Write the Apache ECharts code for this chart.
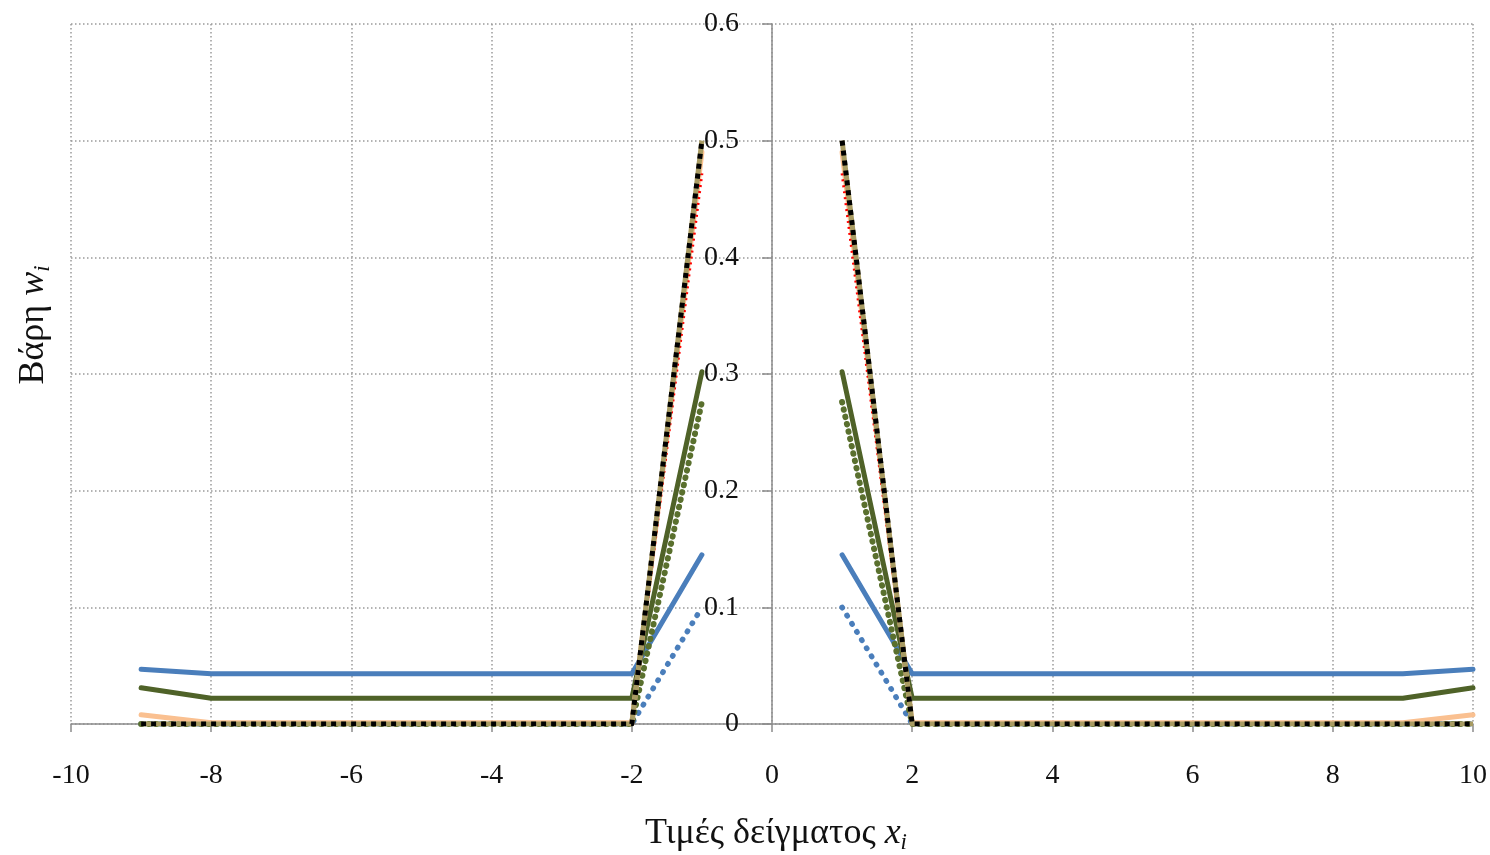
<!DOCTYPE html>
<html>
<head>
<meta charset="utf-8">
<script src="https://cdn.jsdelivr.net/npm/echarts@6/dist/echarts.min.js"></script>
<style>
  html, body { margin: 0; padding: 0; background: #fff; }
  #chart { width: 1490px; height: 855px; }
</style>
</head>
<body>
<div id="chart"></div>
<script>
// Sample positions x_i (0 has no sample, so every curve breaks there)
const xValues = [-9, -8, -7, -6, -5, -4, -3, -2, -1, 0, 1, 2, 3, 4, 5, 6, 7, 8, 9, 10];

// Weights w_i for each curve
const blueSolid   = [0.047, 0.043, 0.043, 0.043, 0.043, 0.043, 0.043, 0.043, 0.145, null, 0.145, 0.043, 0.043, 0.043, 0.043, 0.043, 0.043, 0.043, 0.043, 0.047];
const blueDotted  = [0, 0, 0, 0, 0, 0, 0, 0, 0.100, null, 0.100, 0, 0, 0, 0, 0, 0, 0, 0, 0];
const greenSolid  = [0.031, 0.022, 0.022, 0.022, 0.022, 0.022, 0.022, 0.022, 0.302, null, 0.302, 0.022, 0.022, 0.022, 0.022, 0.022, 0.022, 0.022, 0.022, 0.031];
const greenDotted = [0, 0, 0, 0, 0, 0, 0, 0, 0.276, null, 0.276, 0, 0, 0, 0, 0, 0, 0, 0, 0];
const peachSolid  = [0.008, 0.001, 0.001, 0.001, 0.001, 0.001, 0.001, 0.001, 0.490, null, 0.490, 0.001, 0.001, 0.001, 0.001, 0.001, 0.001, 0.001, 0.001, 0.008];
const redDotted   = [0, 0, 0, 0, 0, 0, 0, 0, 0.472, null, 0.472, 0, 0, 0, 0, 0, 0, 0, 0, 0];
const tanSolid    = [0, 0, 0, 0, 0, 0, 0, 0, 0.500, null, 0.500, 0, 0, 0, 0, 0, 0, 0, 0, 0];
const blackDotted = [0, 0, 0, 0, 0, 0, 0, 0, 0.500, null, 0.500, 0, 0, 0, 0, 0, 0, 0, 0, 0];

// Axis ranges
const xMin = -10, xMax = 10, xStep = 2;
const yMin = 0, yMax = 0.6, yStep = 0.1;

const FONT = "'Liberation Serif', 'DejaVu Serif', serif";
const GRID = { left: 71, right: 12, top: 24, bottom: 131 };

function pairs(values) {
  return xValues.map((x, i) => [x, values[i] === null ? '-' : values[i]]);
}

function lineSeries(values, color, width, type, cap) {
  return {
    type: 'line',
    data: pairs(values),
    showSymbol: false,
    symbol: 'none',
    connectNulls: false,
    animation: false,
    lineStyle: { color: color, width: width, type: type, cap: cap || 'butt', join: 'round' },
    emphasis: { disabled: true }
  };
}

const chart = echarts.init(document.getElementById('chart'), null, { renderer: 'canvas' });

const axisGray = '#8c8c8c';
const gridLine = { show: true, lineStyle: { color: '#9a9a9a', width: 1.5, type: [1.5, 2.5] } };

chart.setOption({
  backgroundColor: '#ffffff',
  animation: false,
  grid: GRID,
  xAxis: {
    type: 'value',
    min: xMin, max: xMax, interval: xStep,
    axisLine: { onZero: true, lineStyle: { color: axisGray, width: 1.5 } },
    axisTick: { show: true, inside: false, length: 8, lineStyle: { color: axisGray, width: 1.5 } },
    axisLabel: { color: '#111', fontFamily: FONT, fontSize: 28, margin: 38 },
    splitLine: gridLine
  },
  yAxis: {
    type: 'value',
    min: yMin, max: yMax, interval: yStep,
    // the value axis stands at x = 0; its offset is set once the x scale is known
    axisLine: { onZero: false, lineStyle: { color: axisGray, width: 1.5 } },
    axisTick: { show: true, inside: false, length: 10, lineStyle: { color: axisGray, width: 1.5 } },
    axisLabel: {
      color: '#111', fontFamily: FONT, fontSize: 28, margin: 33,
      formatter: v => (v === 0 ? '0' : v.toFixed(1))
    },
    splitLine: gridLine
  },
  graphic: [
    {
      type: 'text',
      x: 776, y: 834,
      style: {
        text: '{n|Τιμές δείγματος }{it|x}{sub|i}',
        align: 'center', verticalAlign: 'middle',
        rich: {
          n: { fontFamily: FONT, fontSize: 36, fill: '#111', lineHeight: 40 },
          it: { fontFamily: FONT, fontSize: 36, fontStyle: 'italic', fill: '#111', lineHeight: 40 },
          sub: { fontFamily: FONT, fontSize: 23, fontStyle: 'italic', fill: '#111', lineHeight: 40, verticalAlign: 'bottom', padding: [14, 0, 0, 0] }
        }
      }
    },
    {
      type: 'text',
      x: 34, y: 325,
      rotation: Math.PI / 2,
      style: {
        text: '{n|Βάρη }{it|w}{sub|i}',
        align: 'center', verticalAlign: 'middle',
        rich: {
          n: { fontFamily: FONT, fontSize: 36, fill: '#111', lineHeight: 40 },
          it: { fontFamily: FONT, fontSize: 36, fontStyle: 'italic', fill: '#111', lineHeight: 40 },
          sub: { fontFamily: FONT, fontSize: 23, fontStyle: 'italic', fill: '#111', lineHeight: 40, verticalAlign: 'bottom', padding: [14, 0, 0, 0] }
        }
      }
    }
  ],
  series: [
    lineSeries(blueSolid, '#4a7ebb', 5, 'solid', 'round'),
    lineSeries(blueDotted, '#4a7ebb', 5.5, [0.5, 9], 'round'),
    lineSeries(greenSolid, '#4f6228', 5, 'solid', 'round'),
    lineSeries(greenDotted, '#5a702e', 6, [0.5, 7], 'round'),
    lineSeries(peachSolid, '#fac090', 5, 'solid', 'round'),
    lineSeries(redDotted, '#ff0000', 3, [2, 4], 'butt'),
    lineSeries(tanSolid, '#a89b62', 5, 'solid', 'butt'),
    lineSeries(blackDotted, '#000000', 5, [5, 5], 'butt')
  ]
});

// Move the y axis (line, ticks and labels) to where x = 0 sits on the x scale
const zeroPx = chart.convertToPixel({ xAxisIndex: 0 }, 0);
chart.setOption({ yAxis: { offset: -(zeroPx - GRID.left) } });
</script>
</body>
</html>
